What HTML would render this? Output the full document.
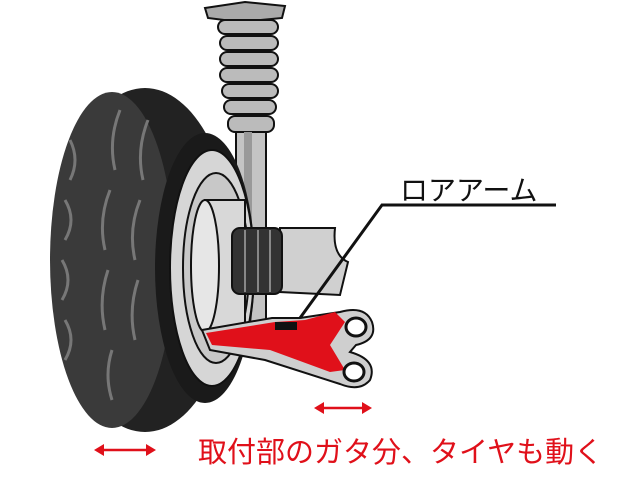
<!DOCTYPE html>
<html><head><meta charset="utf-8"><style>
html,body{margin:0;padding:0;background:#fff;width:640px;height:480px;overflow:hidden}
svg{display:block}
</style></head><body>
<svg width="640" height="480" viewBox="0 0 640 480" xmlns="http://www.w3.org/2000/svg">
<rect width="640" height="480" fill="#fff"/>
<path d="M205 8 L245 2 L285 6 L282 18 L240 22 L208 18 Z" fill="#aaa" stroke="#111" stroke-width="2"/>
<g fill="#bbb" stroke="#111" stroke-width="2">
<rect x="218" y="20" width="60" height="14" rx="7"/>
<rect x="220" y="36" width="58" height="14" rx="7"/>
<rect x="220" y="52" width="58" height="14" rx="7"/>
<rect x="220" y="68" width="58" height="14" rx="7"/>
<rect x="222" y="84" width="56" height="14" rx="7"/>
<rect x="224" y="100" width="52" height="14" rx="7"/>
<rect x="228" y="116" width="46" height="16" rx="7"/>
</g>
<rect x="236" y="132" width="30" height="190" fill="#c4c4c4" stroke="#111" stroke-width="2"/>
<rect x="244" y="132" width="8" height="190" fill="#999"/>
<!-- tire -->
<ellipse cx="145" cy="260" rx="90" ry="172" fill="#222"/>
<ellipse cx="112" cy="260" rx="62" ry="168" fill="#3a3a3a"/>
<g stroke="#777" stroke-width="3" fill="none">
<path d="M70 140 q10 20 0 40 M65 200 q12 20 0 40 M62 260 q12 20 0 40 M65 320 q12 20 0 40"/>
<path d="M120 110 q-12 30 -5 60 M110 190 q-12 30 -5 60 M108 270 q-10 30 -3 60 M112 350 q-8 25 0 50"/>
<path d="M148 120 q-12 30 -5 60 M140 200 q-12 30 -5 60 M138 280 q-10 30 -3 60"/>
</g>
<ellipse cx="205" cy="268" rx="50" ry="135" fill="#1a1a1a"/>
<ellipse cx="212" cy="268" rx="42" ry="118" fill="#d6d6d6" stroke="#111" stroke-width="2"/>
<ellipse cx="216" cy="268" rx="33" ry="95" fill="#c8c8c8" stroke="#111" stroke-width="2"/>
<rect x="205" y="200" width="40" height="132" fill="#d8d8d8" stroke="#111" stroke-width="2"/>
<ellipse cx="205" cy="266" rx="14" ry="66" fill="#e6e6e6" stroke="#111" stroke-width="2"/>
<path d="M280 228 L335 228 Q332 255 348 262 L340 295 L280 292 Z" fill="#d0d0d0" stroke="#111" stroke-width="2"/>
<rect x="232" y="228" width="50" height="66" rx="8" fill="#333" stroke="#111" stroke-width="2"/>
<g stroke="#888" stroke-width="2"><line x1="245" y1="230" x2="245" y2="292"/><line x1="258" y1="230" x2="258" y2="292"/><line x1="270" y1="230" x2="270" y2="292"/></g>
<path d="M202 330 L272 318 L300 318 L340 312 Q365 305 372 322 Q378 340 356 345 L350 352 Q378 360 370 380 Q360 392 340 384 L265 360 L210 350 Z" fill="#cfcfcf" stroke="#111" stroke-width="2"/>
<path d="M206 333 L275 322 L305 320 L335 312 L345 322 L330 345 L345 370 L330 372 L270 350 L212 345 Z" fill="#e0101a"/>
<rect x="275" y="322" width="22" height="8" fill="#111"/>
<ellipse cx="356" cy="327" rx="10" ry="9" fill="#fff" stroke="#111" stroke-width="3"/>
<ellipse cx="354" cy="372" rx="10" ry="9" fill="#fff" stroke="#111" stroke-width="3"/>
<polyline points="300,318 382,205 556,205" fill="none" stroke="#111" stroke-width="3"/>
<text x="400" y="200" font-family="Liberation Sans, 'Noto Sans CJK JP', sans-serif" font-size="28" fill="#111">ロアアーム</text>
<g stroke="#e0101a" stroke-width="2.5" fill="#e0101a">
<line x1="320" y1="408" x2="366" y2="408"/>
<path d="M314 408 l10 -6 v12 z M372 408 l-10 -6 v12 z" stroke="none"/>
<line x1="100" y1="450" x2="150" y2="450"/>
<path d="M94 450 l10 -6 v12 z M156 450 l-10 -6 v12 z" stroke="none"/>
</g>
<text x="198" y="462" font-family="Liberation Sans, 'Noto Sans CJK JP', sans-serif" font-size="29" fill="#e0101a">取付部のガタ分、タイヤも動く</text>
</svg>
</body></html>
